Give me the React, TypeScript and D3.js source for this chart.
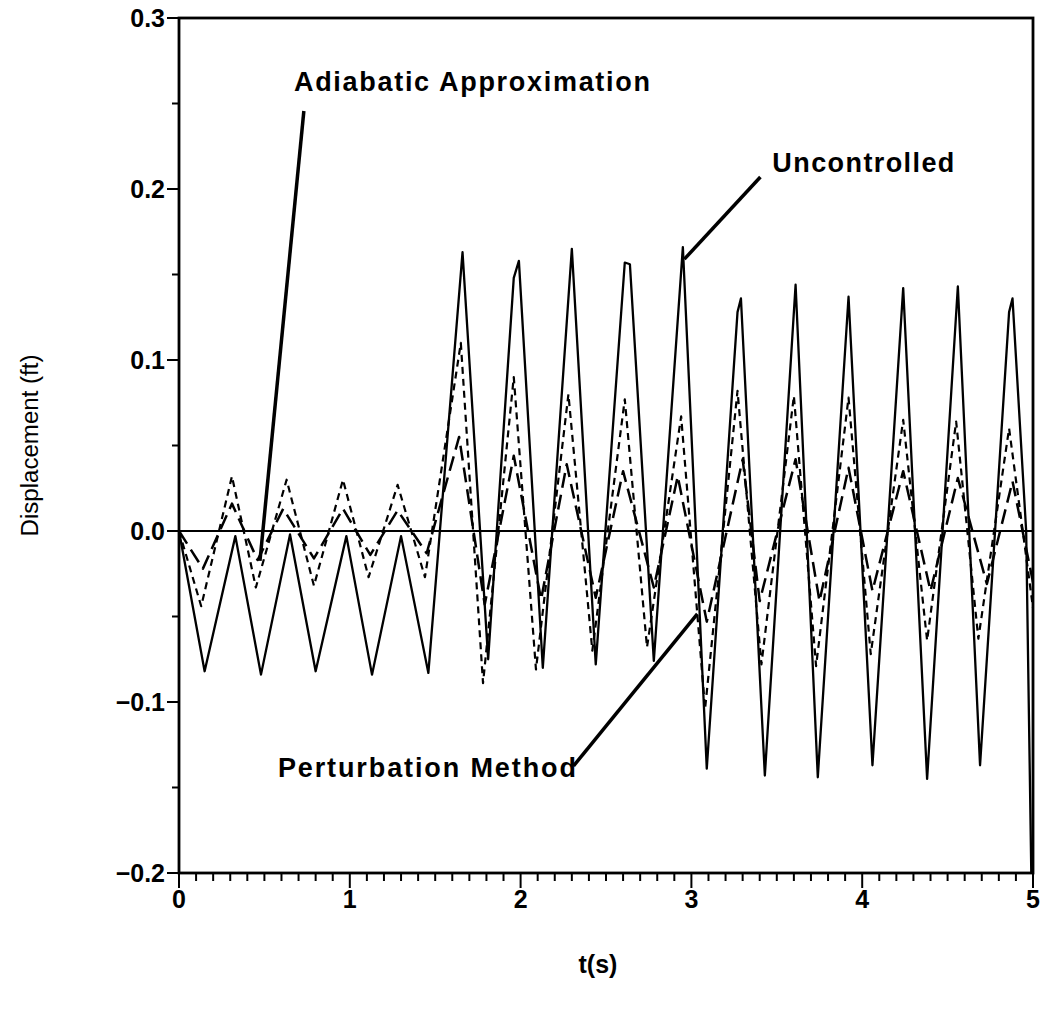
import React from "react";
import * as d3 from "d3";

// ---- data (t in s, displacement in ft) ----
const uncontrolled: [number, number][] = [
  [0.0, 0.0], [0.15, -0.082], [0.33, -0.003], [0.48, -0.084], [0.65, -0.002],
  [0.8, -0.082], [0.98, -0.003], [1.13, -0.084], [1.3, -0.003], [1.46, -0.083],
  [1.66, 0.163], [1.81, -0.075], [1.96, 0.148], [1.99, 0.158], [2.13, -0.08],
  [2.3, 0.165], [2.44, -0.078], [2.61, 0.157], [2.64, 0.156], [2.78, -0.076],
  [2.95, 0.166], [3.09, -0.139], [3.27, 0.128], [3.29, 0.136], [3.43, -0.143], [3.61, 0.144],
  [3.74, -0.144], [3.92, 0.137], [4.06, -0.137], [4.24, 0.142], [4.38, -0.145],
  [4.56, 0.143], [4.69, -0.137], [4.86, 0.128], [4.88, 0.136], [4.96, 0.0], [4.99, -0.2],
];

const shortDash: [number, number][] = [
  [0.0, 0.0], [0.13, -0.044], [0.31, 0.032], [0.45, -0.033], [0.63, 0.03],
  [0.79, -0.032], [0.96, 0.03], [1.11, -0.027], [1.28, 0.027], [1.44, -0.027],
  [1.65, 0.11], [1.78, -0.089], [1.96, 0.09], [2.09, -0.081], [2.28, 0.08],
  [2.42, -0.07], [2.61, 0.077], [2.74, -0.068], [2.94, 0.067], [3.08, -0.104],
  [3.27, 0.082], [3.41, -0.078], [3.6, 0.079], [3.73, -0.079], [3.92, 0.078],
  [4.05, -0.072], [4.24, 0.065], [4.38, -0.064], [4.55, 0.064], [4.68, -0.063],
  [4.86, 0.06], [5.0, -0.045],
];

const longDash: [number, number][] = [
  [0.0, 0.0], [0.14, -0.022], [0.31, 0.016], [0.46, -0.017], [0.61, 0.013],
  [0.79, -0.016], [0.96, 0.013], [1.12, -0.014], [1.28, 0.012], [1.45, -0.013],
  [1.64, 0.055], [1.79, -0.043], [1.96, 0.044], [2.12, -0.04], [2.27, 0.039],
  [2.44, -0.039], [2.6, 0.035], [2.78, -0.033], [2.92, 0.032], [3.09, -0.053],
  [3.3, 0.042], [3.4, -0.041], [3.61, 0.042], [3.75, -0.041], [3.92, 0.037],
  [4.06, -0.035], [4.24, 0.035], [4.4, -0.035], [4.56, 0.031], [4.73, -0.031],
  [4.88, 0.029], [5.0, -0.03],
];

const xMajorTicks = [0, 1, 2, 3, 4, 5];
const yMajorTicks = [0.3, 0.2, 0.1, 0.0, -0.1, -0.2];
const yTickLabels = ["0.3", "0.2", "0.1", "0.0", "\u22120.1", "\u22120.2"];

// annotations: label, text anchor (t, v), leader from (t, v) to (t, v)
const annotationLabels = ["Adiabatic Approximation", "Uncontrolled", "Perturbation Method"];
const annotationTextPos: [number, number][] = [[0.673, 0.2573], [3.474, 0.21], [0.579, -0.1439]];
const annotationLeaderFrom: [number, number][] = [[0.731, 0.2456], [3.404, 0.207], [2.31, -0.1374]];
const annotationLeaderTo: [number, number][] = [[0.474, -0.0175], [2.959, 0.159], [3.035, -0.0485]];
const annotationWidths = [356, 182, 298];

const W = 1044;
const H = 1010;

export default function App() {
  const x = d3.scaleLinear().domain([0, 5]).range([179, 1033]);
  const y = d3.scaleLinear().domain([-0.2, 0.3]).range([873, 18]);

  const line = d3
    .line<[number, number]>()
    .x((d) => x(d[0]))
    .y((d) => y(d[1]));

  const xMinor = d3.range(0, 51).map((i) => i / 10);
  const yMinor = d3.range(0, 11).map((i) => -0.2 + i * 0.05);

  const font = "'Liberation Sans', Arial, Helvetica, sans-serif";

  return (
    <svg
      width={W}
      height={H}
      style={{ position: "absolute", left: 0, top: 0, background: "#fff" }}
    >
      <rect x={0} y={0} width={W} height={H} fill="#fff" />
      <defs>
        <clipPath id="plotClip">
          <rect x={x(0)} y={y(0.3)} width={x(5) - x(0)} height={y(-0.2) - y(0.3)} />
        </clipPath>
      </defs>

      {/* zero line */}
      <line x1={x(0)} x2={x(5)} y1={y(0)} y2={y(0)} stroke="#000" strokeWidth={2.2} />

      {/* series */}
      <g clipPath="url(#plotClip)" fill="none" stroke="#000" strokeLinejoin="round">
        <path d={line(uncontrolled) || ""} strokeWidth={2.3} />
        <path d={line(shortDash) || ""} strokeWidth={2.2} strokeDasharray="7,5" />
        <path d={line(longDash) || ""} strokeWidth={2.5} strokeDasharray="15,7" />
      </g>

      {/* frame */}
      <rect
        x={x(0)}
        y={y(0.3)}
        width={x(5) - x(0)}
        height={y(-0.2) - y(0.3)}
        fill="none"
        stroke="#000"
        strokeWidth={2.8}
      />

      {/* x ticks */}
      {xMinor.map((t, i) => (
        <line
          key={"xm" + i}
          x1={x(t)}
          x2={x(t)}
          y1={y(-0.2)}
          y2={y(-0.2) + (i % 10 === 0 ? 15 : 8)}
          stroke="#000"
          strokeWidth={2}
        />
      ))}
      {xMajorTicks.map((t) => (
        <text
          key={"xl" + t}
          x={x(t)}
          y={y(-0.2) + 35}
          textAnchor="middle"
          fontFamily={font}
          fontWeight="bold"
          fontSize={25}
        >
          {String(t)}
        </text>
      ))}

      {/* y ticks */}
      {yMinor.map((v, i) => (
        <line
          key={"ym" + i}
          x1={x(0)}
          x2={x(0) - (i % 2 === 0 ? 12 : 7)}
          y1={y(v)}
          y2={y(v)}
          stroke="#000"
          strokeWidth={2}
        />
      ))}
      {yMajorTicks.map((v, i) => (
        <text
          key={"yl" + i}
          x={x(0) - 14}
          y={y(v) + 9}
          textAnchor="end"
          fontFamily={font}
          fontWeight="bold"
          fontSize={25}
        >
          {yTickLabels[i]}
        </text>
      ))}

      {/* axis titles */}
      <text
        x={x(2.5) - 8}
        y={973}
        textAnchor="middle"
        fontFamily={font}
        fontWeight="bold"
        fontSize={25}
      >
        t(s)
      </text>
      <text
        transform={`translate(38, ${y(0.05)}) rotate(-90)`}
        textAnchor="middle"
        fontFamily={"'Liberation Sans Narrow', 'Arial Narrow', " + font}
        fontSize={23}
        textLength={182}
        lengthAdjust="spacingAndGlyphs"
      >
        Displacement (ft)
      </text>

      {/* annotations */}
      {annotationLabels.map((lab, i) => (
        <g key={"ann" + i}>
          <line
            x1={x(annotationLeaderFrom[i][0])}
            y1={y(annotationLeaderFrom[i][1])}
            x2={x(annotationLeaderTo[i][0])}
            y2={y(annotationLeaderTo[i][1])}
            stroke="#000"
            strokeWidth={3.5}
          />
          <text
            x={x(annotationTextPos[i][0])}
            y={y(annotationTextPos[i][1])}
            fontFamily={font}
            fontWeight="bold"
            fontSize={27}
            textLength={annotationWidths[i]}
            lengthAdjust="spacing"
          >
            {lab}
          </text>
        </g>
      ))}
    </svg>
  );
}
